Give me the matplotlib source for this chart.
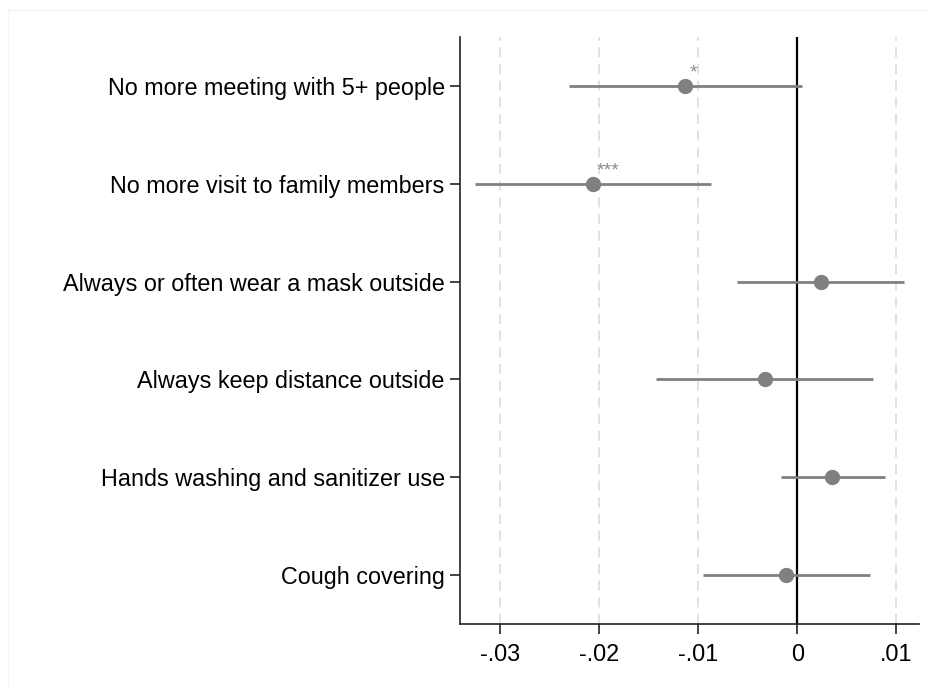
import matplotlib
matplotlib.use("Agg")
import matplotlib.pyplot as plt
from matplotlib.lines import Line2D

# Coefficient estimates with 95% confidence intervals
labels = [
    "No more meeting with 5+ people",
    "No more visit to family members",
    "Always or often wear a mask outside",
    "Always keep distance outside",
    "Hands washing and sanitizer use",
    "Cough covering",
]
coef = [-0.0113, -0.0206, 0.0024, -0.0033, 0.0035, -0.0011]
ci_low = [-0.0230, -0.0325, -0.0061, -0.0142, -0.0016, -0.0095]
ci_high = [0.0005, -0.0087, 0.0108, 0.0076, 0.0088, 0.0073]
stars = ["*", "***", "", "", "", ""]

xticks = [-0.03, -0.02, -0.01, 0.0, 0.01]
xticklabels = ["-.03", "-.02", "-.01", "0", ".01"]

plt.rcParams["font.family"] = ["Liberation Sans", "DejaVu Sans"]

fig = plt.figure(figsize=(9.29, 6.88), dpi=100)
ax = fig.add_axes([460 / 929, 64 / 688, 459 / 929, 587 / 688])

# faint outer frame of the graph region
fig.add_artist(Line2D([8 / 929, 1.0], [1 - 10 / 688, 1 - 10 / 688],
                      transform=fig.transFigure, color="#f2f2f2", lw=1))
fig.add_artist(Line2D([8 / 929, 8 / 929], [0.0, 1 - 10 / 688],
                      transform=fig.transFigure, color="#f7f7f7", lw=1))

gray = "#808080"
ypos = list(range(1, len(labels) + 1))

# dashed vertical gridlines
for xv in xticks:
    if xv != 0.0:
        ax.axvline(xv, color="#dcdcdc", lw=1.2, ls=(0, (6, 4)), zorder=0)

# reference line at zero
ax.axvline(0.0, color="black", lw=1.6, zorder=1)

for y, c, lo, hi, s in zip(ypos, coef, ci_low, ci_high, stars):
    ax.plot([lo, hi], [y, y], color=gray, lw=2.0, solid_capstyle="butt", zorder=2)
    ax.plot([c], [y], "o", color=gray, ms=10, mec=gray, zorder=3)
    if s:
        ax.annotate(s, xy=(c, y), xytext=(3, 3), textcoords="offset points",
                    ha="left", va="bottom", fontsize=14, color="#8c8c8c")

ax.set_xlim(-0.0340, 0.01227)
ax.set_ylim(6.5, 0.5)
ax.set_yticks(ypos)
ax.set_yticklabels(labels, fontsize=16.8)
ax.set_xticks(xticks)
ax.set_xticklabels(xticklabels, fontsize=16.8)

for side in ("top", "right"):
    ax.spines[side].set_visible(False)
for side in ("left", "bottom"):
    ax.spines[side].set_linewidth(1.2)
    ax.spines[side].set_color("#222222")
ax.tick_params(axis="y", length=7, width=1.2, pad=4, color="#222222")
ax.tick_params(axis="x", length=7, width=1.2, pad=7, color="#222222")

fig.savefig("out.png", dpi=100)
